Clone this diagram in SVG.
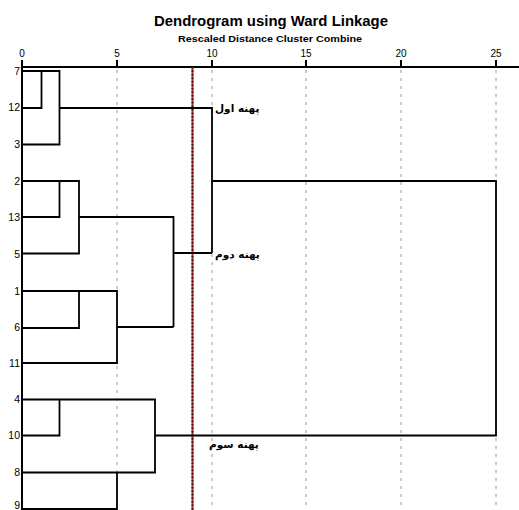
<svg xmlns="http://www.w3.org/2000/svg" width="519" height="510" viewBox="0 0 519 510">
<style>
text{font-family:"Liberation Sans",Arial,sans-serif;fill:#000}
.title{font-size:14.5px;font-weight:bold}
.sub{font-size:8.5px;font-weight:bold}
.tick{font-size:10px}
.leaf{font-size:10.5px;text-anchor:end}
.zone{font-family:"DejaVu Sans","Noto Sans",sans-serif;font-size:10.5px;font-weight:bold}
.grid{stroke:#9a9a9a;stroke-width:1;stroke-dasharray:3,5;fill:none}
.ln{stroke:#000;stroke-width:1.8;fill:none}
.axis{stroke:#000;stroke-width:2;fill:none}
</style>
<rect width="519" height="510" fill="#fff"/>
<g id="titles">
<text class="title" x="271" y="26" text-anchor="middle" textLength="234" lengthAdjust="spacingAndGlyphs">Dendrogram using Ward Linkage</text>
<text class="sub" x="270" y="42" text-anchor="middle" textLength="184" lengthAdjust="spacingAndGlyphs">Rescaled Distance Cluster Combine</text>
</g>
<g id="axis">
<g class="tick" text-anchor="middle">
<text x="22" y="57">0</text>
<text x="117" y="57">5</text>
<text x="212" y="57">10</text>
<text x="306" y="57">15</text>
<text x="401" y="57">20</text>
<text x="496" y="57">25</text>
</g>
<path class="axis" d="M22 60V67M117 60V67M212 60V67M306 60V67M401 60V67M496 60V67"/>
<path class="axis" d="M21 67H519"/>
<path class="axis" d="M22 66V510"/>
</g>
<g id="grid">
<path class="grid" d="M117 70V510M212 70V510M306 70V510M401 70V510M496 70V510"/>
</g>
<g id="cutline">
<line x1="192.5" y1="67" x2="192.5" y2="510" stroke="#c0262c" stroke-width="2"/>
<line x1="192.5" y1="67" x2="192.5" y2="510" stroke="#222" stroke-width="2" stroke-dasharray="1.5,2"/>
</g>
<g id="leaves">
<text class="leaf" x="20" y="75">7</text>
<text class="leaf" x="20" y="111">12</text>
<text class="leaf" x="20" y="148">3</text>
<text class="leaf" x="20" y="185">2</text>
<text class="leaf" x="20" y="221">13</text>
<text class="leaf" x="20" y="258">5</text>
<text class="leaf" x="20" y="295">1</text>
<text class="leaf" x="20" y="331">6</text>
<text class="leaf" x="20" y="367">11</text>
<text class="leaf" x="20" y="403">4</text>
<text class="leaf" x="20" y="439">10</text>
<text class="leaf" x="20" y="476">8</text>
<text class="leaf" x="20" y="508.5">9</text>
</g>
<g id="connectors">
<path class="ln" d="M22 71H59.5V144.5H22M41.5 71V108H22M59.5 108H212V253"/>
<path class="ln" d="M22 181H79V253.5H22M22 217H59.5V181M79 217H173.5V327M173.5 253H212"/>
<path class="ln" d="M22 291H117V363H22M22 328H79V291M117 327H173.5"/>
<path class="ln" d="M22 399.5H155V472.5H22M22 435.5H59.5V399.5M22 509H117V472.5M155 435.5H496V181H212"/>
</g>
<g id="zone1"><text class="zone" x="215" y="112">پهنه اول</text></g>
<g id="zone2"><text class="zone" x="215" y="258">پهنه دوم</text></g>
<g id="zone3"><text class="zone" x="209" y="448">پهنه سوم</text></g>
</svg>
